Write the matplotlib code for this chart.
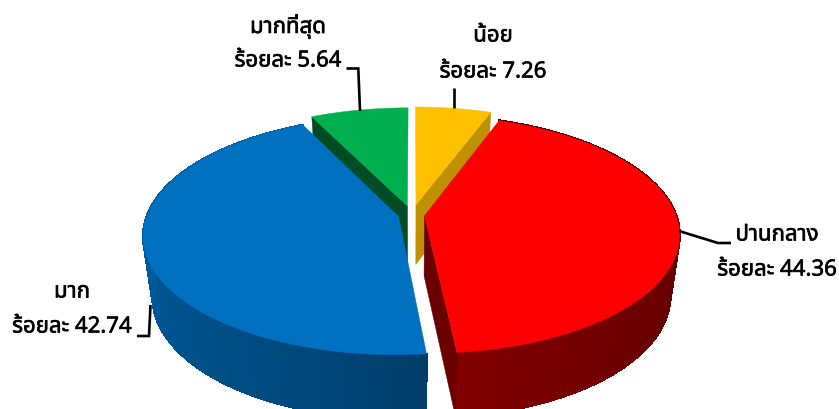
import numpy as np
import matplotlib
matplotlib.use('Agg')
import matplotlib.pyplot as plt
from matplotlib.patches import Polygon
from matplotlib.collections import PolyCollection
from matplotlib.colors import to_rgb
import matplotlib.patheffects as pe

# values as drawn, clockwise from the top
slice_names = ['yellow', 'red', 'blue', 'green']
slice_values = [5.64, 42.74, 44.36, 7.26]
explode = [0.09, 0.05, 0.055, 0.08]
top_colors = ['#FFC000', '#FF0000', '#0070C0', '#00B050']
face_colors = ['#BF9000', '#6B0000', '#00426F', '#004D25']
wall_start = [None, '#820000', '#003C68', None]   # colour at the front cut edge
wall_end = [None, '#480000', '#0068B2', None]     # colour at the far end

# labels as printed
label_cats = ['น้อย', 'ปานกลาง', 'มาก', 'มากที่สุด']
label_vals = ['7.26', '44.36', '42.74', '5.64']

W, H = 839, 410
cx, cy = 412, 216
rx, ry, k = 251.5, 116, 0.155
depth, shrink_x, shrink_y = 60, 0.965, 1.03

plt.rcParams['font.family'] = ['Noto Sans Thai', 'DejaVu Sans']

fig = plt.figure(figsize=(W / 100, H / 100), dpi=100)
ax = fig.add_axes([0, 0, 1, 1])
ax.set_xlim(0, W)
ax.set_ylim(H, 0)
ax.axis('off')


def project(u, v, bottom=False):
    w = 1 + k * v
    x = rx * u / w
    y = -ry * v / w
    if bottom:
        return cx + shrink_x * x, cy + shrink_y * y + depth
    return cx + x, cy + y


def slice_pts(a0, a1, e, bottom=False, n=120):
    mid = (a0 + a1) / 2
    ou, ov = e * np.sin(mid), e * np.cos(mid)
    t = np.linspace(a0, a1, n)
    px, py = project(ou + np.sin(t), ov + np.cos(t), bottom)
    vx, vy = project(ou, ov, bottom)
    return (vx, vy), np.column_stack([px, py])


fr = np.array(slice_values) / sum(slice_values) * 2 * np.pi
starts = np.concatenate([[0], np.cumsum(fr)[:-1]])


def top(i, z):
    v, rim = slice_pts(starts[i], starts[i] + fr[i], explode[i])
    ax.add_patch(Polygon(np.vstack([[v], rim]), closed=True, fc=top_colors[i], ec=top_colors[i], lw=0.3, zorder=z))


def cut_face(i, a, z):
    e = explode[i]
    mid = starts[i] + fr[i] / 2
    ou, ov = e * np.sin(mid), e * np.cos(mid)
    a0 = project(ou, ov)
    a1 = project(ou + np.sin(a), ov + np.cos(a))
    b0 = project(ou, ov, True)
    b1 = project(ou + np.sin(a), ov + np.cos(a), True)
    ax.add_patch(Polygon([a0, a1, b1, b0], closed=True, fc=face_colors[i], ec=face_colors[i], lw=0.3, zorder=z))


def wall(i, z, reverse=False, gamma=1.0):
    m = 320
    _, t = slice_pts(starts[i], starts[i] + fr[i], explode[i], n=m + 1)
    _, b = slice_pts(starts[i], starts[i] + fr[i], explode[i], bottom=True, n=m + 1)
    quads = [[t[j], t[j + 1], b[j + 1], b[j]] for j in range(m)]
    c0, c1 = np.array(to_rgb(wall_start[i])), np.array(to_rgb(wall_end[i]))
    f = np.linspace(0, 1, m)
    if reverse:
        f = f[::-1]
    f = f ** gamma
    cols = [c0 + (c1 - c0) * x for x in f]
    ax.add_collection(PolyCollection(quads, facecolors=cols, edgecolors=cols, linewidths=1.0,
                                     antialiaseds=False, zorder=z))


# back slices
cut_face(0, starts[0] + fr[0], 1)
cut_face(3, starts[3], 1)
top(0, 2)
top(3, 2)
# front slices
wall(1, 3, reverse=True, gamma=0.8)
wall(2, 3, gamma=0.7)
cut_face(1, starts[1] + fr[1], 4)
top(1, 5)
top(2, 5)

# leader lines
leaders = [([453.5, 453.5], [89, 109]),
           ([346.5, 358.3, 360], [69.5, 69.5, 112]),
           ([679, 718, 731], [232, 244, 244]),
           ([137, 149, 150.5], [337, 337, 306])]
for xs, ys in leaders:
    ax.plot(xs, ys, color='black', lw=1.9, solid_capstyle='butt', solid_joinstyle='miter', zorder=6)

# labels
bold = [pe.withStroke(linewidth=0.45, foreground='black')]
pos = [(493, 37, 73), (777, 236, 271), (72, 293, 328), (288, 27, 62)]
for (x, y1, y2), c, v in zip(pos, label_cats, label_vals):
    for y, s in ((y1, c), (y2, 'ร้อยละ ' + v)):
        ax.text(x, y, s, ha='center', va='center', fontsize=16, color='black', zorder=7, path_effects=bold)

fig.savefig('out.png', dpi=100)
